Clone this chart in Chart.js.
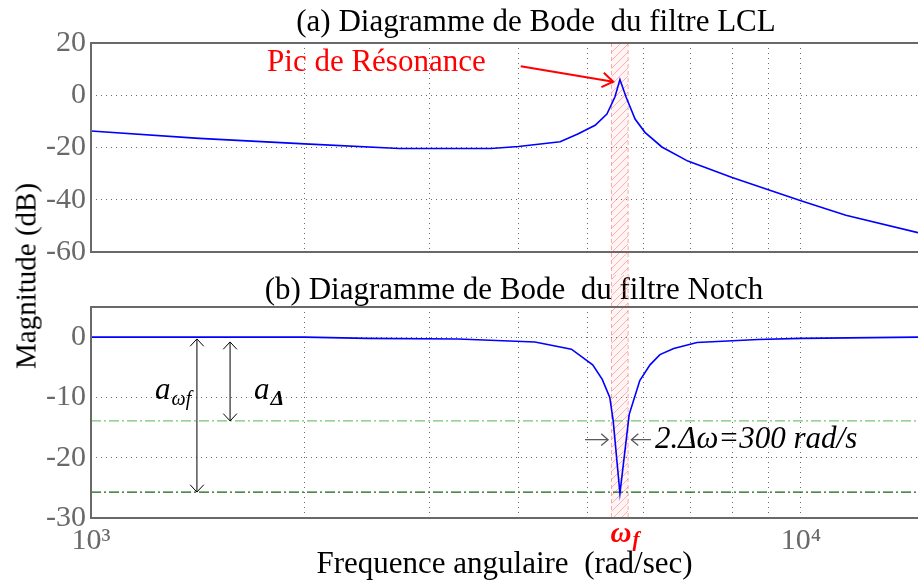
<!DOCTYPE html>
<html lang="fr">
<head>
<meta charset="utf-8">
<title>Diagrammes de Bode</title>
<script src="https://cdn.jsdelivr.net/npm/chart.js@4.4.0/dist/chart.umd.min.js"></script>
<style>
  html, body { margin: 0; padding: 0; background: #fff; }
  #fig { position: relative; width: 918px; height: 583px; overflow: hidden; }
  #boxA { position: absolute; left: 0; top: 0; width: 918px; height: 275px; }
  #boxB { position: absolute; left: 0; top: 275px; width: 918px; height: 308px; }
  #ytitle { position: absolute; left: 26px; top: 276px; transform: translate(-50%, -50%) rotate(-90deg);
            font: 29px "Liberation Serif", serif; line-height: 1; white-space: nowrap; color: #000; }
</style>
</head>
<body>
<div id="fig">
  <div id="boxA"><canvas id="lclChart"></canvas></div>
  <div id="boxB"><canvas id="notchChart"></canvas></div>
  <div id="ytitle">Magnitude (dB)</div>
</div>
<script>
// =================[Data]=================
const xMin = 1000;
const xMax = 14620;
const xTicks = [1000, 2000, 3000, 4000, 5000, 6000, 7000, 8000, 9000, 10000];
const xLabels = { 1000: '10³', 10000: '10⁴' };
const yTicksLCL = [-60, -40, -20, 0, 20];
const yTicksNotch = [-30, -20, -10, 0];

// (a) LCL filter magnitude (dB) vs frequency (rad/s)
const freqLCL = [1000, 1420, 2000, 2720, 3660, 4000, 4580, 4850, 5130, 5330, 5470, 5560, 5670, 5840, 6030, 6370, 6930, 8000, 10000, 11570, 14620];
const magLCL  = [-13.7, -16.5, -18.6, -20.4, -20.4, -19.6, -17.8, -14.8, -11.5, -7.2, -0.7, 6.0, -0.6, -9.1, -14.2, -19.8, -25.2, -31.5, -40.4, -45.9, -52.6];

// (b) notch filter magnitude (dB)
const freqNotch = [1000, 2000, 2450, 3290, 4220, 4750, 5090, 5250, 5380, 5440, 5560, 5730, 5930, 6130, 6330, 6620, 7140, 8700, 10000, 14620];
const magNotch  = [0, 0, -0.2, -0.3, -0.8, -2.0, -4.6, -7.0, -10.0, -13.9, -25.9, -12.8, -7.2, -4.6, -2.9, -1.9, -0.9, -0.4, -0.2, 0];

// notch band 2.Δω = 300 rad/s around ωf, and the two attenuation levels
const bandLimits = [5410, 5710];
const aDelta = -13.9;
const aOmegaF = -25.7;

// =================[Annotations, in data units]=================
const resArrow = { from: [4030, 11.1], to: [5440, 5.2] };
const picLabel = { x: 1770, y: 9.3, text: 'Pic de Résonance' };
const spanArrows = [
  { x: 1410, top: -0.3, bottom: aOmegaF, sub: 'ωf', labelX: 1231, subFont: 'italic 20px ' },
  { x: 1570, top: -0.8, bottom: aDelta, sub: 'Δ', labelX: 1697, subFont: 'italic bold 22px ' }
];
const spanLabelY = -10.2;
const widthArrows = [[4964, 5350], [6148, 5770]];
const widthY = -17.0;
const widthText = { x: 6229, text: '2.Δω=300 rad/s' };

// =================[Fonts and colours]=================
const SERIF = '"Liberation Serif", "Times New Roman", serif';
const TICK_GREY = 'rgb(105,105,105)';
const GRID_GREY = 'rgba(70,70,70,0.8)';
const FRAME_GREY = 'rgb(105,105,105)';
const BLUE = 'rgb(0,0,255)';

Chart.defaults.font.family = SERIF;

// =================[Small drawing helpers]=================
function arrowHead(ctx, x, y, ang, len, spread) {
  ctx.beginPath();
  ctx.moveTo(x - len * Math.cos(ang - spread), y - len * Math.sin(ang - spread));
  ctx.lineTo(x, y);
  ctx.lineTo(x - len * Math.cos(ang + spread), y - len * Math.sin(ang + spread));
  ctx.stroke();
}

function textWithSub(ctx, x, y, main, sub, mainFont, subFont, drop) {
  ctx.font = mainFont;
  ctx.fillText(main, x, y);
  const w = ctx.measureText(main).width;
  ctx.font = subFont;
  ctx.fillText(sub, x + w + 1, y + drop);
}

const hatchTile = (() => {
  const c = document.createElement('canvas');
  c.width = 8; c.height = 8;
  const g = c.getContext('2d');
  g.strokeStyle = 'rgba(255,90,90,0.45)';
  g.lineWidth = 1;
  g.beginPath();
  g.moveTo(0, 8); g.lineTo(8, 0);
  g.moveTo(-2, 2); g.lineTo(2, -2);
  g.moveTo(6, 10); g.lineTo(10, 6);
  g.stroke();
  return c;
})();

function drawBand(chart, top, bottom) {
  const { ctx, scales: { x } } = chart;
  const x0 = x.getPixelForValue(bandLimits[0]);
  const x1 = x.getPixelForValue(bandLimits[1]);
  ctx.save();
  ctx.fillStyle = 'rgba(255,0,0,0.04)';
  ctx.fillRect(x0, top, x1 - x0, bottom - top);
  ctx.fillStyle = ctx.createPattern(hatchTile, 'repeat');
  ctx.fillRect(x0, top, x1 - x0, bottom - top);
  ctx.strokeStyle = 'rgba(255,110,110,0.6)';
  ctx.setLineDash([4, 3]);
  ctx.lineWidth = 1;
  ctx.beginPath();
  ctx.moveTo(x0, top); ctx.lineTo(x0, bottom);
  ctx.moveTo(x1, top); ctx.lineTo(x1, bottom);
  ctx.stroke();
  ctx.restore();
}

function drawFrame(chart) {
  const { ctx, chartArea: a } = chart;
  ctx.save();
  ctx.strokeStyle = FRAME_GREY;
  ctx.lineWidth = 2;
  ctx.beginPath();
  ctx.moveTo(a.right + 2, a.top);
  ctx.lineTo(a.left, a.top);
  ctx.lineTo(a.left, a.bottom);
  ctx.lineTo(a.right + 2, a.bottom);
  ctx.stroke();
  ctx.restore();
}

function drawTitle(chart, text, cx, baseline) {
  const ctx = chart.ctx;
  ctx.save();
  ctx.font = '31px ' + SERIF;
  ctx.fillStyle = '#000';
  ctx.textAlign = 'center';
  ctx.textBaseline = 'alphabetic';
  ctx.fillText(text, cx, baseline);
  ctx.restore();
}

// =================[Scales shared by both plots]=================
function xScale(showLabels) {
  return {
    type: 'logarithmic',
    min: xMin,
    max: xMax,
    afterBuildTicks: s => { s.ticks = xTicks.map(v => ({ value: v })); },
    afterFit: s => { s.height = showLabels ? 65 : 16; },
    grid: { color: GRID_GREY, lineWidth: 1, drawTicks: false },
    border: { display: false, dash: [1, 4] },
    ticks: {
      display: showLabels, autoSkip: false, maxRotation: 0, minRotation: 0, padding: 5,
      color: TICK_GREY, font: { family: SERIF, size: 30 },
      callback: v => xLabels[v] || ''
    },
    title: {
      display: showLabels, text: 'Frequence angulaire  (rad/sec)', color: '#000',
      font: { family: SERIF, size: 31 }, padding: { top: 0, bottom: 0 }
    }
  };
}

function yScale(min, max, ticks) {
  return {
    min: min,
    max: max,
    afterBuildTicks: s => { s.ticks = ticks.map(v => ({ value: v })); },
    afterFit: s => { s.width = 91; },
    grid: { color: GRID_GREY, lineWidth: 1, drawTicks: false },
    border: { display: false, dash: [1, 4] },
    ticks: { color: TICK_GREY, font: { family: SERIF, size: 30 }, padding: 5 }
  };
}

// =================[(a) LCL plot]=================
const lclDecor = {
  id: 'lclDecor',
  beforeDatasetsDraw(chart) {
    drawBand(chart, chart.chartArea.top, chart.height);
  },
  afterDatasetsDraw(chart) {
    drawFrame(chart);
    const { ctx, scales: { x, y } } = chart;
    const x0 = x.getPixelForValue(resArrow.from[0]), y0 = y.getPixelForValue(resArrow.from[1]);
    const x1 = x.getPixelForValue(resArrow.to[0]), y1 = y.getPixelForValue(resArrow.to[1]);
    ctx.save();
    ctx.strokeStyle = 'rgb(255,0,0)';
    ctx.lineWidth = 2;
    ctx.beginPath();
    ctx.moveTo(x0, y0); ctx.lineTo(x1, y1);
    ctx.stroke();
    arrowHead(ctx, x1, y1, Math.atan2(y1 - y0, x1 - x0), 13, 0.6);
    ctx.font = '31px ' + SERIF;
    ctx.fillStyle = 'rgb(255,0,0)';
    ctx.textBaseline = 'alphabetic';
    ctx.fillText(picLabel.text, x.getPixelForValue(picLabel.x), y.getPixelForValue(picLabel.y));
    ctx.restore();
  },
  afterDraw(chart) {
    drawTitle(chart, '(a) Diagramme de Bode  du filtre LCL', 536, 31);
  }
};

new Chart(document.getElementById('lclChart'), {
  type: 'line',
  data: {
    datasets: [{
      label: 'LCL',
      data: freqLCL.map((f, i) => ({ x: f, y: magLCL[i] })),
      borderColor: BLUE,
      borderWidth: 1.6,
      pointRadius: 0,
      tension: 0,
      fill: false
    }]
  },
  options: {
    responsive: true,
    maintainAspectRatio: false,
    devicePixelRatio: 1,
    animation: false,
    layout: { padding: { top: 43, left: 0, right: 0, bottom: 0 } },
    plugins: { legend: { display: false }, tooltip: { enabled: false } },
    scales: { x: xScale(false), y: yScale(-60, 20, yTicksLCL) }
  },
  plugins: [lclDecor]
});

// =================[(b) Notch plot]=================
const notchDecor = {
  id: 'notchDecor',
  beforeDatasetsDraw(chart) {
    drawTitle(chart, '(b) Diagramme de Bode  du filtre Notch', 514, 24);
    drawBand(chart, 0, chart.chartArea.bottom);
  },
  afterDatasetsDraw(chart) {
    drawFrame(chart);
    const { ctx, scales: { x, y } } = chart;
    ctx.save();
    // vertical double arrows a_wf and a_delta
    ctx.strokeStyle = '#000';
    ctx.fillStyle = '#000';
    ctx.lineWidth = 1;
    spanArrows.forEach(s => {
      const px = x.getPixelForValue(s.x);
      const yt = y.getPixelForValue(s.top), yb = y.getPixelForValue(s.bottom);
      ctx.beginPath();
      ctx.moveTo(px, yt); ctx.lineTo(px, yb);
      ctx.stroke();
      arrowHead(ctx, px, yt, -Math.PI / 2, 10, 0.75);
      arrowHead(ctx, px, yb, Math.PI / 2, 10, 0.75);
      ctx.textBaseline = 'alphabetic';
      textWithSub(ctx, x.getPixelForValue(s.labelX), y.getPixelForValue(spanLabelY), 'a', s.sub,
        'italic 31px ' + SERIF, s.subFont + SERIF, 6);
    });
    // horizontal arrows pointing at the band edges
    ctx.strokeStyle = 'rgb(90,90,90)';
    ctx.lineWidth = 1.3;
    const wy = y.getPixelForValue(widthY);
    widthArrows.forEach(([from, to]) => {
      const xa = x.getPixelForValue(from), xb = x.getPixelForValue(to);
      ctx.beginPath();
      ctx.moveTo(xa, wy); ctx.lineTo(xb, wy);
      ctx.stroke();
      arrowHead(ctx, xb, wy, xb > xa ? 0 : Math.PI, 9, 0.7);
    });
    ctx.font = 'italic 31px ' + SERIF;
    ctx.fillStyle = '#000';
    ctx.textBaseline = 'middle';
    ctx.fillText(widthText.text, x.getPixelForValue(widthText.x), wy);
    ctx.restore();
  },
  afterDraw(chart) {
    const { ctx, scales: { x }, chartArea: a } = chart;
    ctx.save();
    ctx.fillStyle = 'rgb(255,0,0)';
    ctx.textBaseline = 'alphabetic';
    textWithSub(ctx, x.getPixelForValue(bandLimits[0]) - 1, a.bottom + 24, 'ω', 'f',
      'italic bold 29px ' + SERIF, 'italic bold 21px ' + SERIF, 4);
    ctx.restore();
  }
};

new Chart(document.getElementById('notchChart'), {
  type: 'line',
  data: {
    datasets: [
      {
        label: 'Notch',
        data: freqNotch.map((f, i) => ({ x: f, y: magNotch[i] })),
        borderColor: BLUE,
        borderWidth: 1.6,
        pointRadius: 0,
        tension: 0,
        fill: false,
        order: 0
      },
      {
        label: 'a_delta',
        data: [{ x: xMin, y: aDelta }, { x: xMax, y: aDelta }],
        borderColor: 'rgb(120,195,120)',
        borderWidth: 1.3,
        borderDash: [10, 3, 2, 3],
        pointRadius: 0,
        fill: false,
        order: 1
      },
      {
        label: 'a_wf',
        data: [{ x: xMin, y: aOmegaF }, { x: xMax, y: aOmegaF }],
        borderColor: 'rgb(20,100,20)',
        borderWidth: 1.3,
        borderDash: [10, 3, 2, 3],
        pointRadius: 0,
        fill: false,
        order: 1
      }
    ]
  },
  options: {
    responsive: true,
    maintainAspectRatio: false,
    devicePixelRatio: 1,
    animation: false,
    layout: { padding: { top: 32, left: 0, right: 0, bottom: 0 } },
    plugins: { legend: { display: false }, tooltip: { enabled: false } },
    scales: { x: xScale(true), y: yScale(-30, 5, yTicksNotch) }
  },
  plugins: [notchDecor]
});
</script>
</body>
</html>
